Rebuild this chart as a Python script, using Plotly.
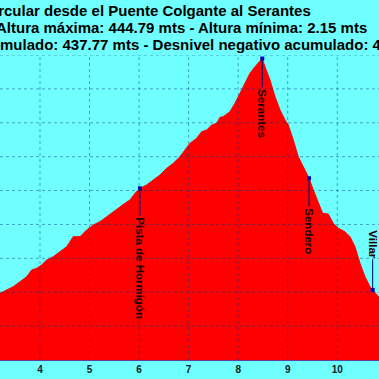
import plotly.graph_objects as go

# Elevation profile (km, metres)
dist_km = [3.193, 3.328, 3.461, 3.596, 3.732, 3.832, 3.933, 4.034, 4.135, 4.268,
           4.404, 4.539, 4.605, 4.672, 4.807, 4.942, 5.076, 5.211, 5.346, 5.479,
           5.615, 5.715, 5.816, 5.917, 6.018, 6.153, 6.287, 6.422, 6.557, 6.690,
           6.825, 6.961, 7.027, 7.162, 7.263, 7.364, 7.465, 7.566, 7.633, 7.699,
           7.835, 7.935, 8.036, 8.137, 8.238, 8.339, 8.440, 8.486, 8.541, 8.642,
           8.743, 8.844, 8.945, 9.011, 9.112, 9.213, 9.314, 9.429, 9.516, 9.617,
           9.705, 9.818, 9.919, 10.020, 10.155, 10.256, 10.357, 10.458, 10.559, 10.660,
           10.714, 10.842]
alt_m = [98.4, 103.3, 108.2, 115.5, 122.9, 132.8, 135.3, 140.2, 147.5, 152.4,
         159.8, 167.2, 174.5, 181.9, 181.9, 191.8, 199.2, 204.1, 211.4, 218.8,
         226.2, 231.2, 236.1, 245.9, 253.3, 258.2, 265.6, 273.0, 282.8, 290.2,
         300.0, 312.4, 319.7, 327.1, 336.9, 339.3, 346.7, 349.2, 358.1, 359.0,
         366.3, 378.7, 393.5, 408.2, 423.0, 432.8, 440.1, 444.79, 432.8, 413.1,
         388.5, 368.9, 354.1, 346.7, 324.6, 300.0, 285.2, 268.1, 250.8, 233.6,
         216.4, 215.4, 201.7, 194.3, 189.3, 181.9, 167.2, 142.7, 122.9, 108.2,
         103.3, 92.5]

# Waypoints
wp_km = [6.018, 8.486, 9.429, 10.714]
wp_alt = [253.3, 444.79, 268.1, 103.3]
wp_label = ["Pista de Hormigón", "Serantes", "Sendero", "Villar"]
wp_offset = [80, 55, 53, -46]

x_ticks = [4, 5, 6, 7, 8, 9, 10]
y_grid = [50, 100, 150, 200, 250, 300, 350, 400, 450]

title_lines = [
    "ircular desde el Puente Colgante al Serantes",
    "Altura máxima: 444.79 mts - Altura mínima: 2.15 mts",
    "mulado: 437.77 mts - Desnivel negativo acumulado: 4",
]

W, H = 379, 379
ML, MR, MT, MB = 0, 0, 55, 19
PH = H - MT - MB

fig = go.Figure()
fig.add_trace(go.Scatter(x=dist_km, y=alt_m, mode="lines", fill="tozeroy",
                         line=dict(color="#FF0000", width=1),
                         fillcolor="#FF0000", hoverinfo="skip"))
fig.add_trace(go.Scatter(x=wp_km, y=wp_alt, mode="markers",
                         marker=dict(color="#0000B0", size=4, symbol="square"),
                         hoverinfo="skip"))

shapes = []
for t in x_ticks:
    shapes.append(dict(type="line", xref="x", yref="paper", x0=t, x1=t, y0=0, y1=1,
                       line=dict(color="rgba(0,50,130,0.45)", width=1, dash="dot"),
                       layer="above"))
for g in y_grid:
    shapes.append(dict(type="line", xref="paper", yref="y", x0=0, x1=1, y0=g, y1=g,
                       line=dict(color="rgba(0,50,130,0.45)", width=1, dash="dot"),
                       layer="above"))

annotations = []
for k, a, lab, off in zip(wp_km, wp_alt, wp_label, wp_offset):
    annotations.append(dict(x=k, y=a, xref="x", yref="y", text=lab, textangle=90,
                            showarrow=True, arrowhead=0, arrowwidth=1,
                            arrowcolor="#000070", ax=0, ay=off, standoff=2,
                            font=dict(family="Liberation Sans", size=11.5,
                                      color="#1a0000", weight="bold")))

title_x = [312, 368, -1]
title_anchor = ["right", "right", "left"]
title_yc = [10, 27, 44]
for txt, xp, anc, yc in zip(title_lines, title_x, title_anchor, title_yc):
    annotations.append(dict(x=xp / W, y=1 + (MT - yc) / PH, xref="paper", yref="paper",
                            text=txt, showarrow=False, xanchor=anc, yanchor="middle",
                            borderpad=0,
                            font=dict(family="Liberation Sans", size=15,
                                      color="#000000", weight="bold")))

fig.update_layout(
    width=W, height=H,
    margin=dict(l=ML, r=MR, t=MT, b=MB, pad=0),
    paper_bgcolor="#70FFFF", plot_bgcolor="#70FFFF",
    showlegend=False,
    shapes=shapes, annotations=annotations,
    xaxis=dict(range=[3.193, 10.842], tickvals=x_ticks, showgrid=False,
               zeroline=False, showline=True, linecolor="#6040A0", linewidth=1,
               ticks="", tickfont=dict(family="Liberation Sans", size=10,
                                       color="#0d2020", weight="bold")),
    yaxis=dict(range=[0, 450], showgrid=False, zeroline=False,
               showticklabels=False, showline=False, ticks=""),
)

fig.write_html("out.html", config={"displayModeBar": False})
